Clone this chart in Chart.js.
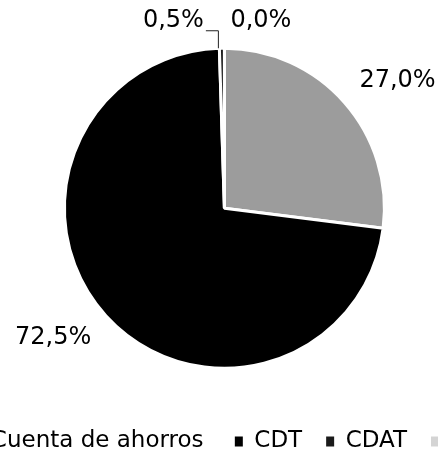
<!DOCTYPE html>
<html>
<head>
<meta charset="utf-8">
<script src="https://cdn.jsdelivr.net/npm/chart.js@4.4.1/dist/chart.umd.min.js"></script>
<style>
  html, body { margin: 0; padding: 0; background: #fff; overflow: hidden; width: 438px; height: 453px; }
  #wrap { position: absolute; left: -108.5px; top: 0; width: 700px; height: 463px; }
</style>
</head>
<body>
<div id="wrap"><canvas id="pie" width="700" height="463"></canvas></div>
<script>
const categories = ['Cuenta de ahorros', 'CDT', 'CDAT', 'Otros'];
const shares = [27.0, 72.5, 0.5, 0.0];
const sliceColors = ['#9c9c9c', '#000000', '#1a1a1a', '#d4d4d4'];

Chart.defaults.font.family = '"DejaVu Sans", Verdana, sans-serif';
Chart.defaults.color = '#000';

const fmt = v => v.toFixed(1).replace('.', ',') + '%';

// labels outside the slices, small ones lifted above the top of the pie
const sliceLabels = {
  id: 'sliceLabels',
  afterDatasetsDraw(chart) {
    const ctx = chart.ctx;
    const arcs = chart.getDatasetMeta(0).data;
    ctx.save();
    ctx.font = '24px "DejaVu Sans", Verdana, sans-serif';
    ctx.fillStyle = '#000';
    ctx.textBaseline = 'middle';
    arcs.forEach((arc, i) => {
      const v = shares[i];
      const { x, y, startAngle, endAngle, outerRadius } = arc.getProps(['x', 'y', 'startAngle', 'endAngle', 'outerRadius'], true);
      const mid = (startAngle + endAngle) / 2;
      const cx = Math.cos(mid), cy = Math.sin(mid);
      if (v >= 2) {
        const px = x + (outerRadius + 20) * cx;
        const py = y + (outerRadius + 20) * cy + Math.sign(cy) * 8;
        ctx.textAlign = cx >= 0 ? 'left' : 'right';
        ctx.fillText(fmt(v), px, py);
      } else {
        const ax = x + outerRadius * cx;
        const top = y - outerRadius;
        const ly = top - 27;
        if (v > 0) {
          ctx.textAlign = 'right';
          const tx = ax - 18;
          ctx.fillText(fmt(v), tx, ly);
          ctx.beginPath();
          ctx.strokeStyle = '#222';
          ctx.lineWidth = 1;
          ctx.moveTo(tx + 2, ly + 9.5);
          ctx.lineTo(ax - 3.5, ly + 9.5);
          ctx.lineTo(ax - 3.5, top);
          ctx.stroke();
        } else {
          ctx.textAlign = 'left';
          ctx.fillText(fmt(v), ax + 6, ly);
        }
      }
    });
    ctx.restore();
  }
};

const baseLabels = Chart.DoughnutController.overrides.plugins.legend.labels.generateLabels;

new Chart(document.getElementById('pie'), {
  type: 'pie',
  data: {
    labels: categories,
    datasets: [{
      data: shares,
      backgroundColor: sliceColors,
      borderColor: '#ffffff',
      borderWidth: 3,
      radius: 160
    }]
  },
  options: {
    responsive: false,
    animation: false,
    layout: { padding: { top: 10.5, bottom: 0, left: 0, right: 0 } },
    plugins: {
      tooltip: { enabled: false },
      // empty title on the right only nudges the pie left of the legend's centre
      title: { display: true, position: 'right', text: '', padding: 10.4, font: { size: 12 } },
      legend: {
        position: 'bottom',
        labels: {
          boxWidth: 8,
          boxHeight: 10,
          padding: 24,
          color: '#000',
          font: { size: 23 },
          // first entry gets a wider gap after it, like the original
          generateLabels: c => baseLabels(c).map((l, i) =>
            Object.assign(l, { lineWidth: 0, text: i === 0 ? l.text + ' ' : l.text }))
        }
      }
    }
  },
  plugins: [sliceLabels]
});
</script>
</body>
</html>
